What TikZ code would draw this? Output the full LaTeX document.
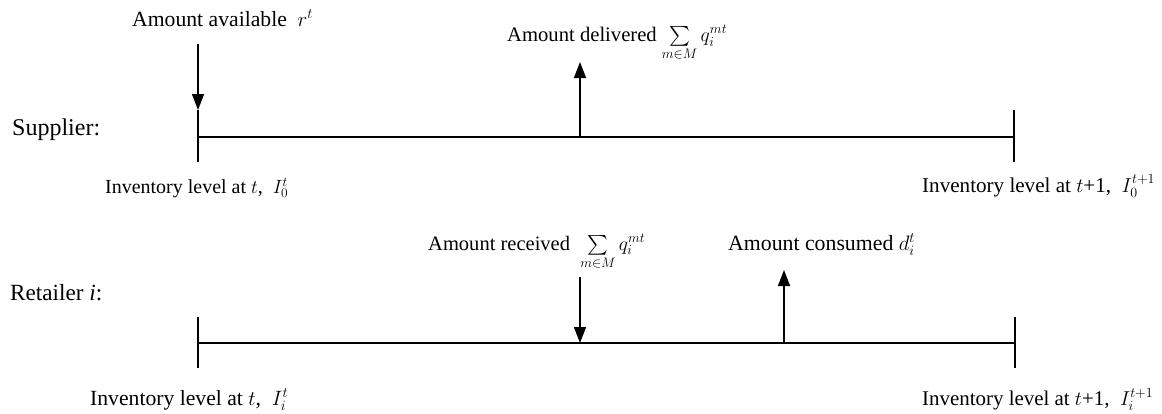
\documentclass[tikz,border=0pt]{standalone}
\usepackage{amsmath}
\usepackage{fontspec}
\setmainfont{Liberation Serif}
\newfontfamily\tnr{Liberation Serif}
\usetikzlibrary{arrows.meta}
\newcommand{\fitlbl}[2]{\resizebox{#1pt}{!}{\tnr #2}}
\begin{document}
\begin{tikzpicture}[x=1pt,y=-1pt,
  axis/.style={line width=1.4pt},
  flow/.style={line width=1.4pt,-{Triangle[width=12pt,length=16pt]}},
  lbl/.style={inner sep=0pt,anchor=base west,font=\tnr\fontsize{18}{20}\selectfont}]
\useasboundingbox (0,0) rectangle (1162,413);
% supplier timeline
\coordinate (sL) at (198,137);
\coordinate (sR) at (1014,137);
\coordinate (sLt) at (198,110);
\coordinate (sLb) at (198,162);
\coordinate (sRt) at (1014,110);
\coordinate (sRb) at (1014,162);
\coordinate (sAvTop) at (198,44);
\coordinate (sMid) at (580,137);
\coordinate (sDelTop) at (580,62);
\draw[axis] (sL) -- (sR);
\draw[axis] (sLt) -- (sLb);
\draw[axis] (sRt) -- (sRb);
\draw[flow] (sAvTop) -- (sLt);
\draw[flow] (sMid) -- (sDelTop);
% retailer timeline
\coordinate (rL) at (198,343);
\coordinate (rR) at (1015,343);
\coordinate (rLt) at (198,317);
\coordinate (rLb) at (198,368);
\coordinate (rRt) at (1015,317);
\coordinate (rRb) at (1015,368);
\coordinate (rRecTop) at (580,277);
\coordinate (rRec) at (580,343);
\coordinate (rCon) at (784,343);
\coordinate (rConTop) at (784,270);
\draw[axis] (rL) -- (rR);
\draw[axis] (rLt) -- (rLb);
\draw[axis] (rRt) -- (rRb);
\draw[flow] (rRecTop) -- (rRec);
\draw[flow] (rCon) -- (rConTop);
% labels
\node[lbl] (tAv) at (132,26) {\fitlbl{181}{Amount available \ $r^t$}};
\node[lbl] (tDel) at (507,41) {\fitlbl{220}{Amount delivered $\sum\limits_{m\in M} q_i^{mt}$}};
\node[lbl] (tSup) at (12,135) {\fitlbl{88}{Supplier:}};
\node[lbl] (tI0) at (105,193) {\fitlbl{183}{Inventory level at $t$, \ $I_0^t$}};
\node[lbl] (tI0n) at (922,192) {\fitlbl{233}{Inventory level at $t$+1, \ $I_0^{t+1}$}};
\node[lbl] (tRec) at (428,250) {\fitlbl{217}{Amount received \ $\sum\limits_{m\in M} q_i^{mt}$}};
\node[lbl] (tCon) at (728,250) {\fitlbl{187}{Amount consumed $d_i^t$}};
\node[lbl] (tRet) at (10,300) {\fitlbl{92}{Retailer \textit{i}:}};
\node[lbl] (tIi) at (90,405) {\fitlbl{198}{Inventory level at $t$, \ $I_i^t$}};
\node[lbl] (tIin) at (922,405) {\fitlbl{231}{Inventory level at $t$+1, \ $I_i^{t+1}$}};
\end{tikzpicture}
\end{document}
